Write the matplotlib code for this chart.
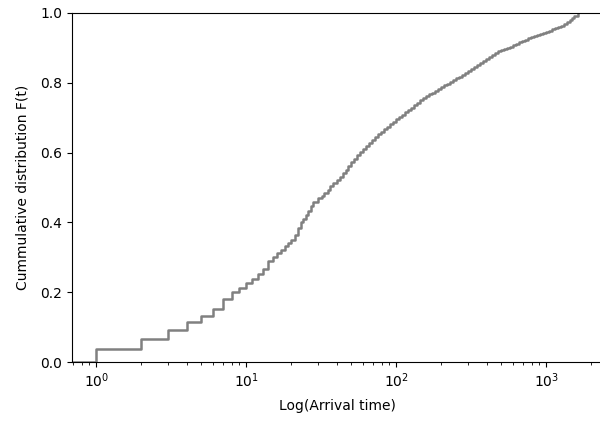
import numpy as np
import matplotlib
matplotlib.use("Agg")
import matplotlib.pyplot as plt

arrival_times = [1, 2, 3, 4, 5, 6, 7, 8, 9, 10, 11, 12, 13, 14, 15, 16, 17, 18, 19, 20,
                 21, 22, 23, 24, 25, 26, 27, 28,
                 30, 32, 33, 35, 36, 38, 40, 42, 44, 46, 48, 50, 52, 55, 57, 60, 63, 66,
                 69, 72, 76, 79, 83, 87, 91, 95, 100, 105, 110, 115, 120, 126, 132, 138,
                 145, 151, 158, 166, 174, 182, 190, 200, 209, 219, 229, 240, 251, 263,
                 275, 288, 302, 316, 331, 347, 363, 380, 398, 417, 437, 457, 479, 501,
                 525, 550, 575, 603, 631, 661, 692, 724, 759, 794, 832, 871, 912, 955,
                 1000, 1047, 1096, 1148, 1202, 1259, 1318, 1380, 1445, 1490, 1537, 1634]
cdf_values = [0.038, 0.066, 0.092, 0.114, 0.132, 0.151, 0.180, 0.200, 0.213, 0.225,
              0.237, 0.251, 0.266, 0.290, 0.300, 0.312, 0.322, 0.332, 0.340, 0.350,
              0.365, 0.385, 0.400, 0.410, 0.420, 0.432, 0.448, 0.458,
              0.469, 0.476, 0.484, 0.493, 0.503, 0.512, 0.522, 0.531, 0.541, 0.551,
              0.562, 0.572, 0.582, 0.592, 0.603, 0.611, 0.620, 0.628, 0.636, 0.644,
              0.652, 0.660, 0.667, 0.674, 0.681, 0.688, 0.695, 0.701, 0.708, 0.715,
              0.722, 0.729, 0.736, 0.743, 0.751, 0.756, 0.762, 0.767, 0.772, 0.777,
              0.783, 0.788, 0.793, 0.797, 0.802, 0.807, 0.813, 0.818, 0.823, 0.828,
              0.834, 0.840, 0.846, 0.852, 0.858, 0.863, 0.869, 0.874, 0.880, 0.885,
              0.890, 0.893, 0.897, 0.900, 0.903, 0.907, 0.912, 0.916, 0.920, 0.923,
              0.927, 0.930, 0.933, 0.936, 0.940, 0.943, 0.946, 0.949, 0.953, 0.956,
              0.960, 0.964, 0.969, 0.974, 0.980, 0.985, 0.990, 1.000]

fig = plt.figure(figsize=(6.0, 4.23), dpi=100)
ax = fig.add_axes([72 / 600, 61 / 423, 530 / 600, 349 / 423])

xmin, xmax = 0.69, 2350
ax.step(np.r_[xmin, arrival_times], np.r_[0.0, cdf_values], where="post",
        color="gray", linewidth=1.8)

ax.set_xscale("log")
ax.set_xlim(xmin, xmax)
ax.set_ylim(0, 1)
ax.set_xlabel("Log(Arrival time)", labelpad=6)
ax.set_ylabel("Cummulative distribution F(t)", labelpad=8)

fig.savefig("out.png", dpi=100)
